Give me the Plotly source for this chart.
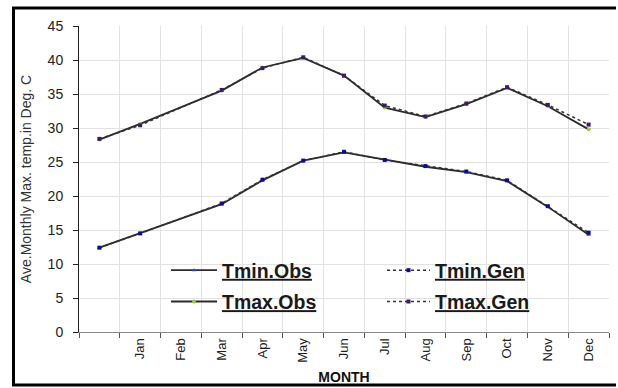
import plotly.graph_objects as go

# Category slots along the x axis (first slot is unlabeled)
categories = [" ", "Jan", "Feb", "Mar", "Apr", "May", "Jun", "Jul", "Aug", "Sep", "Oct", "Nov", "Dec"]
# Positions where the monthly values are plotted
months = [" ", "Jan", "Mar", "Apr", "May", "Jun", "Jul", "Aug", "Sep", "Oct", "Nov", "Dec"]

tmin_obs = [12.4, 14.5, 18.8, 22.3, 25.2, 26.4, 25.3, 24.3, 23.5, 22.2, 18.4, 14.3]
tmin_gen = [12.4, 14.5, 18.9, 22.4, 25.2, 26.5, 25.3, 24.4, 23.6, 22.3, 18.5, 14.6]
tmax_obs = [28.3, 30.6, 35.5, 38.9, 40.3, 37.7, 33.0, 31.6, 33.5, 35.9, 33.2, 29.8]
tmax_gen = [28.4, 30.4, 35.6, 38.8, 40.4, 37.7, 33.3, 31.7, 33.6, 36.0, 33.4, 30.5]

W, H = 618, 388
L, R, T, B = 79, 9, 26, 56
PW, PH = W - L - R, H - T - B


def px_x(p):
    return (p - L) / PW


def px_y(p):
    return (H - B - p) / PH


fig = go.Figure()

fig.add_trace(go.Scatter(
    x=months, y=tmin_obs, name="<b><u>Tmin.Obs</u></b>", mode="lines+markers",
    line=dict(color="#2b2b2b", width=1.8),
    marker=dict(symbol="triangle-up", size=4, color="#1f4fd0"),
    legend="legend", legendgroup="a"))
fig.add_trace(go.Scatter(
    x=months, y=tmax_obs, name="<b><u>Tmax.Obs</u></b>", mode="lines+markers",
    line=dict(color="#2b2b2b", width=1.8),
    marker=dict(symbol="circle", size=4, color="#9acd32"),
    legend="legend", legendgroup="b"))
fig.add_trace(go.Scatter(
    x=months, y=tmin_gen, name="<b><u>Tmin.Gen</u></b>", mode="lines+markers",
    line=dict(color="#333333", width=1.5, dash="dot"),
    marker=dict(symbol="square", size=4, color="#0a0aa0"),
    legend="legend2", legendgroup="c"))
fig.add_trace(go.Scatter(
    x=months, y=tmax_gen, name="<b><u>Tmax.Gen</u></b>", mode="lines+markers",
    line=dict(color="#333333", width=1.5, dash="dot"),
    marker=dict(symbol="square", size=4, color="#3a1a6a"),
    legend="legend2", legendgroup="d"))

legend_font = dict(family="Arial, Liberation Sans, sans-serif", size=19.5, color="#1a1a1a")

fig.update_layout(
    width=W, height=H,
    margin=dict(l=L, r=R, t=T, b=B),
    paper_bgcolor="white", plot_bgcolor="white",
    font=dict(family="Arial, Liberation Sans, sans-serif", color="#222222"),
    legend=dict(x=px_x(166), y=px_y(251), xanchor="left", yanchor="top",
                bgcolor="rgba(0,0,0,0)", font=legend_font, tracegroupgap=3,
                itemwidth=46),
    legend2=dict(x=px_x(382), y=px_y(251), xanchor="left", yanchor="top",
                 bgcolor="rgba(0,0,0,0)", font=legend_font, tracegroupgap=3,
                 itemwidth=43),
    xaxis=dict(
        type="category", categoryorder="array", categoryarray=categories,
        range=[-0.5, 12.5], tickson="boundaries", automargin=False,
        showgrid=True, gridcolor="#e2e2e2", gridwidth=1,
        showline=True, linecolor="#8a8a8a", linewidth=1.2,
        ticks="outside", ticklen=5, tickcolor="#555555",
        tickangle=-90, tickfont=dict(size=13, color="#222222"),
        title=dict(text="<b>MONTH</b>", font=dict(size=14, color="#111111"), standoff=10),
        fixedrange=True),
    yaxis=dict(
        range=[0, 45], dtick=5, tick0=0, automargin=False,
        showgrid=True, gridcolor="#e2e2e2", gridwidth=1,
        zeroline=False,
        showline=True, linecolor="#222222", linewidth=1,
        ticks="outside", ticklen=5, tickcolor="#222222",
        tickfont=dict(size=14, color="#222222"), ticklabelstandoff=7,
        title=dict(text="Ave.Monthly Max. temp.in Deg. C", font=dict(size=14, color="#333333"),
                   standoff=12),
        fixedrange=True),
)

# Open frame around the figure (left, top and bottom edges) as one path
fx0, fx1 = px_x(13.5), px_x(616)
fy_top, fy_bot = px_y(8), px_y(385)
frame_path = (f"M {fx1} {fy_top} L {fx0} {fy_top} "
              f"L {fx0} {fy_bot} L {fx1} {fy_bot}")
fig.add_shape(type="path", xref="paper", yref="paper", path=frame_path,
              line=dict(color="black", width=3), fillcolor="rgba(0,0,0,0)",
              layer="above")

fig.write_html("out.html", config={"displayModeBar": False})
